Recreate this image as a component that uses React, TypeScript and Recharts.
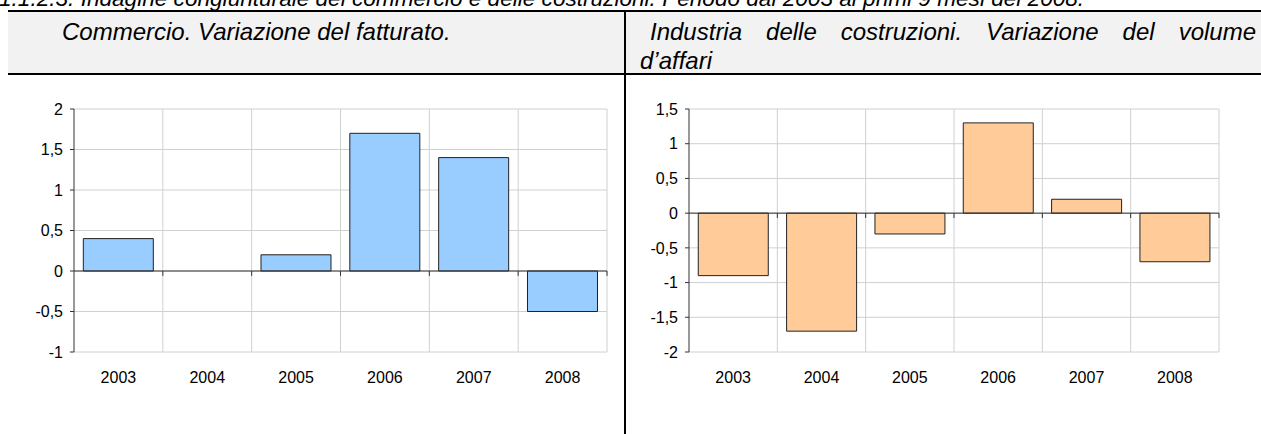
import React from 'react'
import { BarChart, Bar, XAxis, YAxis, CartesianGrid, ReferenceLine } from 'recharts'

// Anni sull'asse delle categorie
const years = ['2003', '2004', '2005', '2006', '2007', '2008']

// Commercio: variazione del fatturato
const commercioValues = [0.4, 0, 0.2, 1.7, 1.4, -0.5]
const commercioTicks = [-1, -0.5, 0, 0.5, 1, 1.5, 2]

// Costruzioni: variazione del volume d'affari
const costruzioniValues = [-0.9, -1.7, -0.3, 1.3, 0.2, -0.7]
const costruzioniTicks = [-2, -1.5, -1, -0.5, 0, 0.5, 1, 1.5]

const FONT = '"Liberation Sans", Arial, sans-serif'
const GRID = '#d0d0d0'
const AXIS = '#333333'

const fmt = (v: number) => String(v).replace('.', ',')

interface PanelProps {
  values: number[]
  ticks: number[]
  fill: string
  axisWidth: number
  marginRight: number
  tickDrop: number
}

function Panel({ values, ticks, fill, axisWidth, marginRight, tickDrop }: PanelProps) {
  const data = years.map((year, i) => ({ year, value: values[i] }))
  const lo = ticks[0]
  const hi = ticks[ticks.length - 1]
  const last = years[years.length - 1]

  return (
    <BarChart
      width={620}
      height={344}
      data={data}
      margin={{ top: 19, right: marginRight, left: 0, bottom: 42 }}
      barCategoryGap="10.5%"
    >
      <CartesianGrid vertical={false} stroke={GRID} />
      {/* vertical grid at category boundaries */}
      {years.slice(1).map((y) => (
        <ReferenceLine key={'v' + y} x={y} position="start" stroke={GRID} />
      ))}
      <ReferenceLine x={last} position="end" stroke={GRID} />
      <XAxis
        dataKey="year"
        interval={0}
        axisLine={false}
        tickLine={false}
        tickSize={0}
        tickMargin={20}
        height={40}
        tick={{ fontSize: 16, fill: '#000', fontFamily: FONT }}
      />
      <YAxis
        type="number"
        domain={[lo, hi]}
        ticks={ticks}
        interval={0}
        width={axisWidth}
        tickFormatter={fmt}
        axisLine={{ stroke: AXIS }}
        tickLine={{ stroke: AXIS }}
        tickSize={4}
        tickMargin={7}
        tick={{ fontSize: 16, fill: '#000', fontFamily: FONT }}
      />
      <Bar dataKey="value" fill={fill} stroke="#222" strokeWidth={1} isAnimationActive={false} />
      <ReferenceLine y={0} stroke={AXIS} />
      {/* small tick marks hanging below the zero line */}
      {years.slice(1).map((y) => (
        <ReferenceLine
          key={'t' + y}
          segment={[{ x: y, y: 0 }, { x: y, y: -tickDrop }]}
          position="start"
          stroke={AXIS}
        />
      ))}
      <ReferenceLine
        segment={[{ x: last, y: 0 }, { x: last, y: -tickDrop }]}
        position="end"
        stroke={AXIS}
      />
    </BarChart>
  )
}

export default function App() {
  return (
    <div
      style={{
        position: 'absolute',
        left: 0,
        top: 0,
        width: 1261,
        height: 434,
        overflow: 'hidden',
        background: '#fff',
        fontFamily: FONT,
        color: '#000'
      }}
    >
      <div
        style={{
          position: 'absolute',
          left: -1,
          top: -12,
          fontSize: 22.6,
          lineHeight: '22px',
          fontStyle: 'italic',
          whiteSpace: 'nowrap'
        }}
      >
        1.1.2.3. Indagine congiunturale del commercio e delle costruzioni. Periodo dal 2003 ai primi 9 mesi del 2008.
      </div>

      {/* header row */}
      <div
        style={{
          position: 'absolute',
          left: 8,
          top: 10,
          width: 1253,
          height: 65,
          boxSizing: 'border-box',
          background: '#f2f2f2',
          borderTop: '2px solid #000',
          borderBottom: '2px solid #000'
        }}
      />
      <div style={{ position: 'absolute', left: 624, top: 10, width: 2, height: 424, background: '#000' }} />

      <div
        style={{
          position: 'absolute',
          left: 23,
          top: 17,
          width: 590,
          fontSize: 24,
          lineHeight: '29px',
          fontStyle: 'italic',
          textIndent: 39
        }}
      >
        Commercio. Variazione del fatturato.
      </div>
      <div
        style={{
          position: 'absolute',
          left: 640,
          top: 17,
          width: 616,
          fontSize: 24,
          lineHeight: '29px',
          fontStyle: 'italic'
        }}
      >
        <div style={{ textIndent: 10, textAlign: 'justify', textAlignLast: 'justify' }}>
          Industria delle costruzioni. Variazione del volume
        </div>
        <div>d’affari</div>
      </div>

      <div style={{ position: 'absolute', left: 0, top: 90 }}>
        <Panel
          values={commercioValues}
          ticks={commercioTicks}
          fill="#99ccff"
          axisWidth={74}
          marginRight={13}
          tickDrop={0.06}
        />
      </div>
      <div style={{ position: 'absolute', left: 625, top: 90 }}>
        <Panel
          values={costruzioniValues}
          ticks={costruzioniTicks}
          fill="#ffcc99"
          axisWidth={64}
          marginRight={26}
          tickDrop={0.07}
        />
      </div>
    </div>
  )
}
